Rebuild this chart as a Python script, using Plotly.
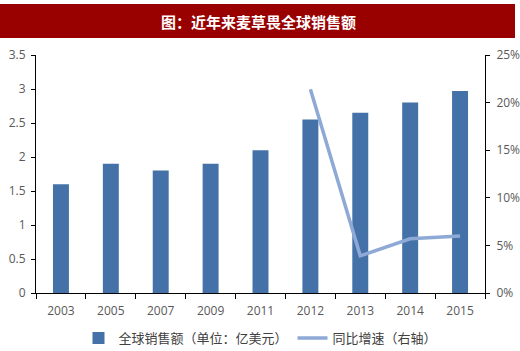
import plotly.graph_objects as go

years = ["2003", "2005", "2007", "2009", "2011", "2012", "2013", "2014", "2015"]
sales = [1.6, 1.9, 1.8, 1.9, 2.1, 2.55, 2.65, 2.8, 2.97]
growth = [None, None, None, None, None, 0.214, 0.039, 0.057, 0.060]
left_ticks = [0, 0.5, 1, 1.5, 2, 2.5, 3, 3.5]
left_labels = ["0", "0.5", "1", "1.5", "2", "2.5", "3", "3.5"]
right_ticks = [0, 0.05, 0.10, 0.15, 0.20, 0.25]
right_labels = ["0%", "5%", "10%", "15%", "20%", "25%"]

W, H = 520, 351
ML, MR, MT, MB = 36, 35, 55, 58
pw, ph = W - ML - MR, H - MT - MB

def px_x(x):
    return (x - ML) / pw

def px_y(y):
    return (H - MB - y) / ph

tick_font = dict(family="Open Sans, Liberation Sans, sans-serif", size=12, color="#595959")
cjk = "Noto Sans CJK SC, sans-serif"

fig = go.Figure()
fig.add_trace(go.Bar(
    x=years, y=sales, name="全球销售额（单位：亿美元）",
    marker=dict(color="#4472A8", line=dict(width=0)), width=0.32,
))
fig.add_trace(go.Scatter(
    x=years, y=growth, name="同比增速（右轴）", yaxis="y2", mode="lines",
    line=dict(color="#8EA9D6", width=3.5), connectgaps=False,
))

fig.update_layout(
    width=W, height=H,
    margin=dict(l=ML, r=MR, t=MT, b=MB, autoexpand=False),
    paper_bgcolor="white", plot_bgcolor="white",
    showlegend=True,
    legend=dict(orientation="h", x=0.5, xanchor="center", y=px_y(338), yanchor="middle",
                font=dict(family=cjk, size=13, color="#404040"),
                itemwidth=30, traceorder="normal", borderwidth=0,
                tracegroupgap=0, bgcolor="rgba(0,0,0,0)"),
    xaxis=dict(type="category", showline=True, linecolor="black", linewidth=1,
               ticks="outside", ticklen=5, tickcolor="black", tickson="boundaries",
               tickfont=tick_font, showgrid=False, zeroline=False, ticklabelstandoff=7),
    yaxis=dict(range=[0, 3.5], tickvals=left_ticks, ticktext=left_labels,
               showline=True, linecolor="black", linewidth=1, ticks="outside",
               ticklen=4, tickcolor="black", tickfont=tick_font, showgrid=False,
               zeroline=False, ticklabelstandoff=3),
    yaxis2=dict(range=[0, 0.25], tickvals=right_ticks, ticktext=right_labels,
                overlaying="y", side="right", showline=True, linecolor="black",
                linewidth=1, ticks="outside", ticklen=4, tickcolor="black",
                tickfont=tick_font, showgrid=False, zeroline=False, ticklabelstandoff=4),
    shapes=[dict(type="rect", xref="paper", yref="paper",
                 x0=px_x(0), x1=px_x(515), y0=px_y(38), y1=px_y(4),
                 fillcolor="#990000", line=dict(width=0), layer="above")],
    annotations=[dict(text="<b>图：近年来麦草畏全球销售额</b>", xref="paper", yref="paper",
                      x=px_x(258), y=px_y(21), xanchor="center", yanchor="middle",
                      showarrow=False, font=dict(family=cjk, size=15, color="white"))],
)

fig.write_html("out.html")
